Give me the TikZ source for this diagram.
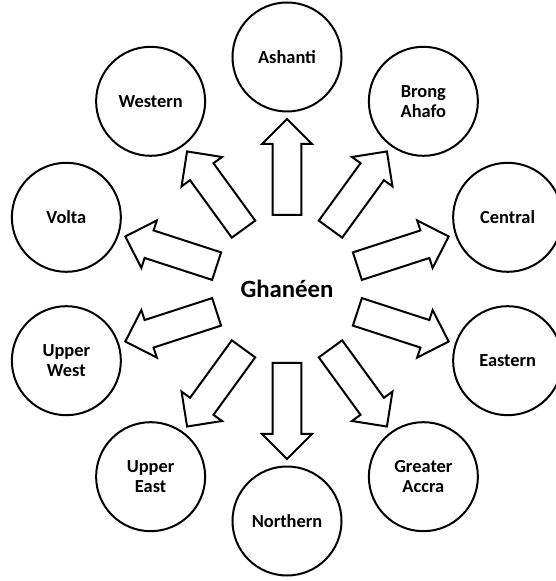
\documentclass[tikz,border=0pt]{standalone}
\usepackage{fontspec}
\setmainfont{Carlito}
\usetikzlibrary{positioning, calc, shapes.arrows}

\begin{document}
\begin{tikzpicture}[
  x=0.75pt, y=0.75pt,
  every node/.style={font=\bfseries\fontsize{13.8pt}{15pt}\selectfont},
  region/.style={circle, draw, line width=1.5pt, minimum size=81.75pt, inner sep=0pt, align=center},
  flow/.style={single arrow, draw, line width=1.5pt, minimum height=72pt, inner xsep=0pt, inner ysep=10.1pt, single arrow head extend=7.9pt, anchor=tail}
]
  \useasboundingbox (-287,-292) rectangle (269,289);

  % Centre
  \node[font=\bfseries\fontsize{18.6pt}{22pt}\selectfont] (ghana) at (0,0) {Ghanéen};

  % Ring of regions
  \node[region] (ashanti) at (90:232) {Ashanti};
  \node[region] (brong) at (54:232) {Brong\\Ahafo};
  \node[region] (central) at (18:232) {Central};
  \node[region] (eastern) at (-18:232) {Eastern};
  \node[region] (accra) at (-54:232) {Greater\\Accra};
  \node[region] (northern) at (-90:232) {Northern};
  \node[region] (uppereast) at (-126:232) {Upper\\East};
  \node[region] (upperwest) at (-162:232) {Upper\\West};
  \node[region] (volta) at (162:232) {Volta};
  \node[region] (western) at (126:232) {Western};

  % Block arrows
  \node[flow, rotate=90] (toashanti) at ($(ghana)!54.75pt!(ashanti)$) {};
  \node[flow, rotate=54] (tobrong) at ($(ghana)!54.75pt!(brong)$) {};
  \node[flow, rotate=18] (tocentral) at ($(ghana)!54.75pt!(central)$) {};
  \node[flow, rotate=-18] (toeastern) at ($(ghana)!54.75pt!(eastern)$) {};
  \node[flow, rotate=-54] (toaccra) at ($(ghana)!54.75pt!(accra)$) {};
  \node[flow, rotate=-90] (tonorthern) at ($(ghana)!54.75pt!(northern)$) {};
  \node[flow, rotate=-126] (touppereast) at ($(ghana)!54.75pt!(uppereast)$) {};
  \node[flow, rotate=-162] (toupperwest) at ($(ghana)!54.75pt!(upperwest)$) {};
  \node[flow, rotate=162] (tovolta) at ($(ghana)!54.75pt!(volta)$) {};
  \node[flow, rotate=126] (towestern) at ($(ghana)!54.75pt!(western)$) {};

\end{tikzpicture}
\end{document}
